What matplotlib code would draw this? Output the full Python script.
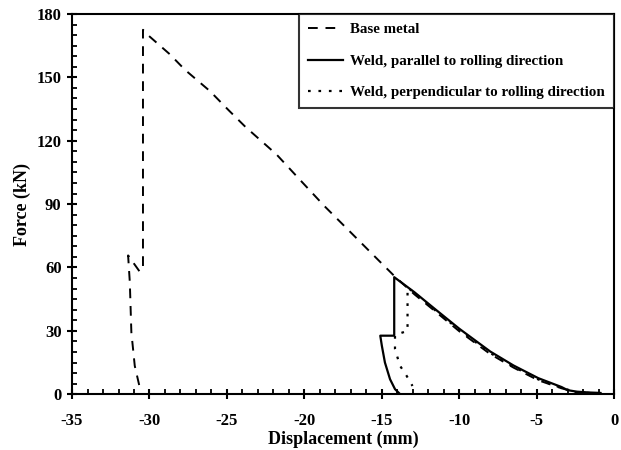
import matplotlib
matplotlib.use("Agg")
import matplotlib.pyplot as plt
from matplotlib.ticker import MultipleLocator

plt.rcParams['font.family'] = ['Liberation Serif', 'DejaVu Serif']
plt.rcParams['font.weight'] = 'bold'
plt.rcParams['axes.unicode_minus'] = False

# Base metal
base_x = [-0.8, -1.6, -2.4, -3.4, -4.9, -6.5, -8.0, -10.0, -11.6, -12.9, -14.2, -15.2,
          -17.2, -18.7, -20.3, -21.8, -23.8, -24.9, -26.1, -27.7, -28.7, -30.1, -30.42,
          -30.42, -30.63, -31.38, -31.27, -31.17, -30.95, -30.63]
base_y = [0.4, 0.6, 0.8, 2.8, 6.6, 12.6, 19.0, 29.8, 39.5, 47.3, 56.0, 63.3,
          78.0, 89.0, 101.6, 113.5, 126.5, 134.5, 143.5, 153.5, 161.0, 170.0, 172.5,
          59.4, 58.0, 65.7, 53.0, 29.3, 13.4, 3.2]

# Weld, parallel to rolling direction
par_x = [-0.9, -1.6, -2.4, -3.0, -3.4, -4.9, -6.5, -8.0, -10.0, -11.6, -12.9, -14.2,
         -14.2, -15.1, -15.0, -14.8, -14.47, -14.15, -13.9]
par_y = [0.6, 0.8, 1.2, 1.9, 3.4, 7.6, 13.6, 20.2, 31.0, 40.5, 48.3, 55.4,
         27.7, 27.7, 23.0, 15.0, 7.1, 2.4, 0.6]

# Weld, perpendicular to rolling direction
perp_x = [-0.9, -1.6, -2.4, -3.4, -4.9, -6.5, -8.0, -10.0, -11.6, -12.9, -13.34,
          -13.34, -14.15, -14.15, -13.83, -13.4, -13.02]
perp_y = [0.4, 0.6, 0.9, 3.0, 7.0, 13.0, 19.5, 30.4, 40.0, 48.0, 50.5,
          30.0, 28.0, 21.4, 13.5, 8.7, 3.9]

fig = plt.figure(figsize=(6.21, 4.5), dpi=100)
ax = fig.add_axes([0.116, 0.124, 0.873, 0.845])

ax.plot(base_x, base_y, color='black', lw=1.4, linestyle=(0, (5, 4)), label='Base metal')
ax.plot(par_x, par_y, color='black', lw=1.6, linestyle='-', label='Weld, parallel to rolling direction')
ax.plot(perp_x, perp_y, color='black', lw=1.6, linestyle=(0, (1.2, 3.5)),
        label='Weld, perpendicular to rolling direction')

ax.set_xlim(-35, 0)
ax.set_ylim(0, 180)
ax.xaxis.set_major_locator(MultipleLocator(5))
ax.xaxis.set_minor_locator(MultipleLocator(1))
ax.yaxis.set_major_locator(MultipleLocator(30))
ax.yaxis.set_minor_locator(MultipleLocator(5))

ax.tick_params(which='major', direction='inout', length=7, width=1.5, labelsize=12)
ax.tick_params(axis='x', which='major', pad=10)
ax.tick_params(axis='y', which='major', pad=4)
ax.tick_params(which='minor', direction='in', length=3.5, width=1.3)
for s in ax.spines.values():
    s.set_linewidth(1.5)

for lab in ax.get_xticklabels() + ax.get_yticklabels():
    lab.set_fontweight('bold')

ax.set_xlabel('Displacement (mm)', fontsize=13, fontweight='bold', labelpad=1)
ax.set_ylabel('Force (kN)', fontsize=13, fontweight='bold', labelpad=4)

leg = ax.legend(loc='upper right', borderaxespad=0, fancybox=False, frameon=True,
                handlelength=2.3, labelspacing=1.2, handletextpad=0.5, borderpad=0.6,
                prop={'weight': 'bold', 'size': 10.8}, edgecolor='black')
leg.get_frame().set_linewidth(1.5)

fig.savefig('out.png', dpi=100)
